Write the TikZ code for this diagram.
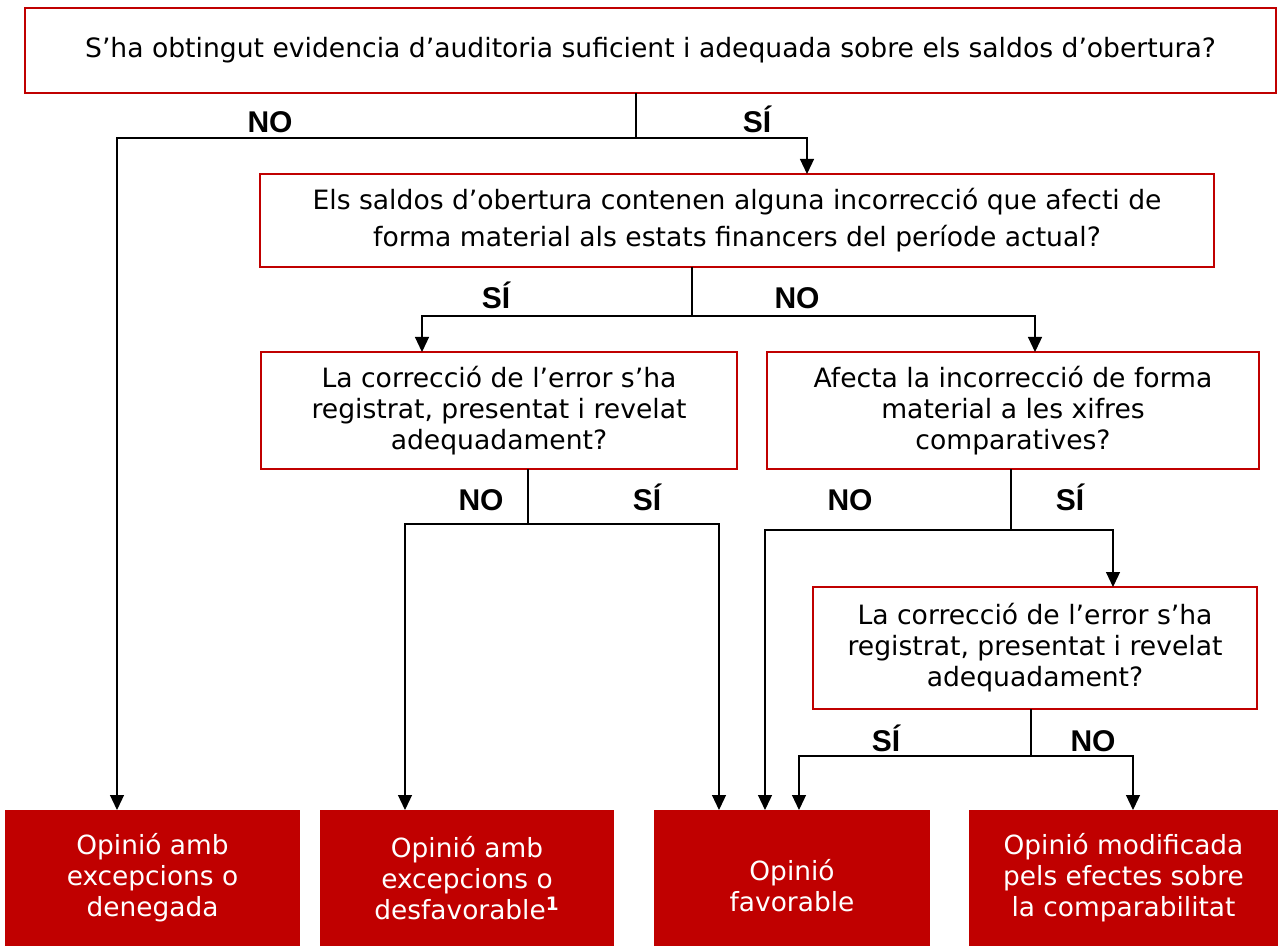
\documentclass[tikz,border=0pt]{standalone}
\usepackage{fontspec}
\setmainfont{DejaVu Sans}
\newfontfamily\labelfont{Liberation Sans}
\usetikzlibrary{arrows.meta}
\definecolor{boxred}{RGB}{192,0,0}

\begin{document}
\begin{tikzpicture}[x=0.5pt,y=-0.5pt,->,>={Stealth[inset=0pt,length=7.5pt,width=7pt]},line width=0.6pt,
    question/.style={rectangle,draw=boxred,line width=1pt,align=center,inner sep=0pt,outer sep=0pt,font=\fontsize{13.3}{15.5}\selectfont},
    answer/.style={rectangle,fill=boxred,text=white,align=center,inner sep=0pt,outer sep=0pt,minimum height=68pt,font=\fontsize{13.2}{15.5}\selectfont},
    branch/.style={anchor=base,font=\labelfont\bfseries\fontsize{15}{15}\selectfont}]
        \useasboundingbox (0,0) rectangle (1278,946);
        % questions
        \node[question,minimum width=625.5pt,minimum height=42.5pt] (1) at (650.5,50.5) {S’ha obtingut evidencia d’auditoria suficient i adequada sobre els saldos d’obertura?};
        \node[question,minimum width=477pt,minimum height=46.5pt,font=\fontsize{13.3}{18.5}\selectfont] (2) at (737,220.5) {Els saldos d’obertura contenen alguna incorrecció que afecti de\\forma material als estats financers del període actual?};
        \node[question,minimum width=238pt,minimum height=58.5pt] (3) at (499,410.5) {La correcció de l’error s’ha\\registrat, presentat i revelat\\adequadament?};
        \node[question,minimum width=246pt,minimum height=58.5pt] (4) at (1013,410.5) {Afecta la incorrecció de forma\\material a les xifres\\comparatives?};
        \node[question,minimum width=222pt,minimum height=61pt] (5) at (1035,648) {La correcció de l’error s’ha\\registrat, presentat i revelat\\adequadament?};
        % opinions
        \node[answer,minimum width=147.5pt] (a) at (152.5,878) {Opinió amb\\excepcions o\\denegada};
        \node[answer,minimum width=147pt] (b) at (467,878) {Opinió amb\\excepcions o\\desfavorable\textsuperscript{\textbf{1}}};
        \node[answer,minimum width=138pt] (c) at (792,878) {\raisebox{-8.8pt}[0pt][0pt]{\begin{tabular}{@{}c@{}}Opinió\\favorable\end{tabular}}};
        \node[answer,minimum width=154.5pt] (d) at (1123.5,878) {Opinió modificada\\pels efectes sobre\\la comparabilitat};
        % split points and arrow ends
        \coordinate (s1) at (636,138);
        \coordinate (s2) at (692,316);
        \coordinate (s3) at (528,524);
        \coordinate (s4) at (1011,530);
        \coordinate (s5) at (1031,756);
        \coordinate (ta) at (117,810);
        \coordinate (tb) at (405,810);
        \coordinate (tc1) at (719,810);
        \coordinate (tc2) at (765,810);
        \coordinate (tc3) at (799,810);
        \coordinate (td) at (1133,810);
        % connectors
        \draw[-] (s1 |- 1.south) -- (s1);
        \draw (s1) -| (ta);
        \draw (s1) -| (807,0 |- 2.north);
        \draw[-] (s2 |- 2.south) -- (s2);
        \draw (s2) -| (422,0 |- 3.north);
        \draw (s2) -| (1035,0 |- 4.north);
        \draw[-] (s3 |- 3.south) -- (s3);
        \draw (s3) -| (tb);
        \draw (s3) -| (tc1);
        \draw[-] (s4 |- 4.south) -- (s4);
        \draw (s4) -| (tc2);
        \draw (s4) -| (1113,0 |- 5.north);
        \draw[-] (s5 |- 5.south) -- (s5);
        \draw (s5) -| (tc3);
        \draw (s5) -| (td);
        % labels
        \node[branch] (n1) at (270,133) {NO};
        \node[branch] (y1) at (757,133) {SÍ};
        \node[branch] (y2) at (496,309) {SÍ};
        \node[branch] (n2) at (797,309) {NO};
        \node[branch] (n3) at (481,510) {NO};
        \node[branch] (y3) at (647,510) {SÍ};
        \node[branch] (n4) at (850,510) {NO};
        \node[branch] (y4) at (1070,510) {SÍ};
        \node[branch] (y5) at (886,751) {SÍ};
        \node[branch] (n5) at (1093,751) {NO};
      \end{tikzpicture}
\end{document}
